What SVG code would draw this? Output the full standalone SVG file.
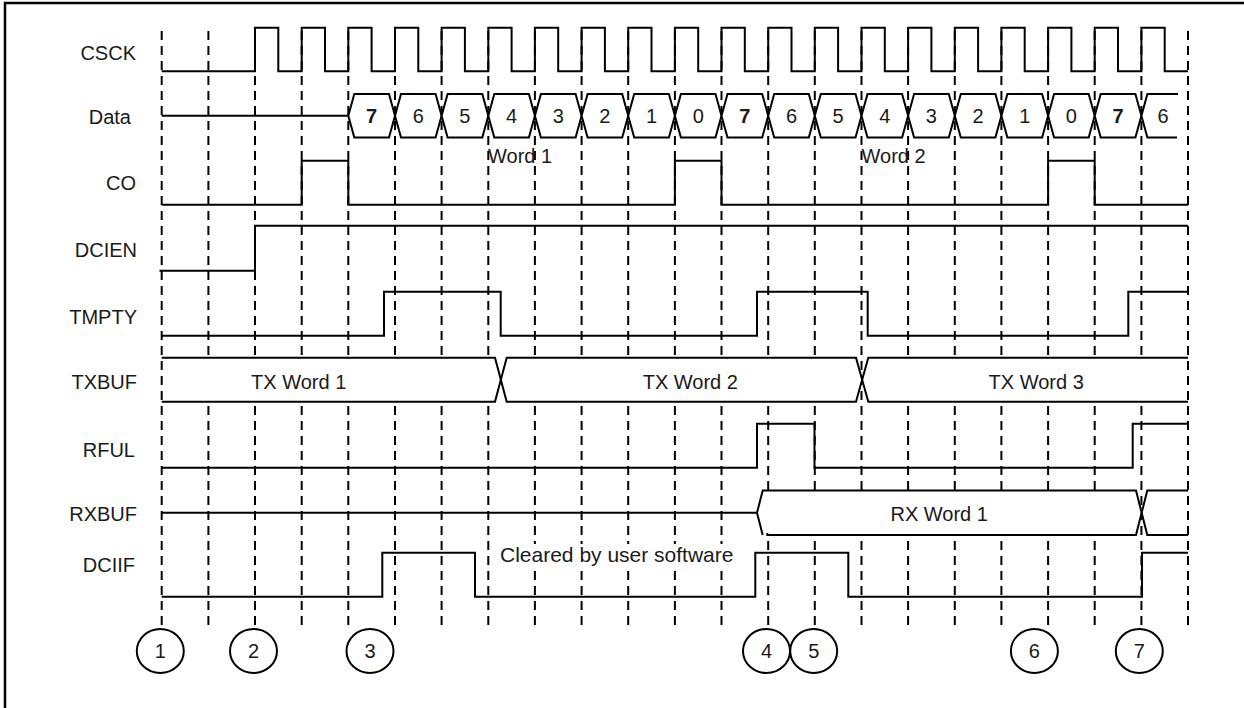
<svg xmlns="http://www.w3.org/2000/svg" width="1244" height="708" viewBox="0 0 1244 708">
<style>
  .sig { fill: none; stroke: #000; stroke-width: 2; stroke-linejoin: miter; }
  .bus { fill: none; stroke: #000; stroke-width: 2; }
  .hex { fill: #fff; stroke: #000; stroke-width: 2; }
  .blank { fill: #fff; stroke: none; }
  .grid line { stroke: #000; stroke-width: 2; stroke-dasharray: 9 6; }
  text { font-family: "Liberation Sans", Arial, Helvetica, sans-serif; font-size: 20px; fill: #1a1a1a; }
  .lbl { text-anchor: end; }
  .c { text-anchor: middle; }
  .b { font-weight: bold; }
  .mark { fill: #fff; stroke: #000; stroke-width: 2; }
</style>
<rect x="0" y="0" width="1244" height="708" fill="#fff"/>
<path d="M5 710 V3 H1246" fill="none" stroke="#000" stroke-width="2.5"/>

<g id="connectors" class="grid">
  <line x1="161.7" y1="31" x2="161.7" y2="625"/>
  <line x1="208.4" y1="31" x2="208.4" y2="625"/>
  <line x1="255" y1="31" x2="255" y2="625"/>
  <line x1="301.7" y1="31" x2="301.7" y2="625"/>
  <line x1="348.3" y1="31" x2="348.3" y2="625"/>
  <line x1="395" y1="31" x2="395" y2="625"/>
  <line x1="441.6" y1="31" x2="441.6" y2="625"/>
  <line x1="488.3" y1="31" x2="488.3" y2="625"/>
  <line x1="534.9" y1="31" x2="534.9" y2="625"/>
  <line x1="581.6" y1="31" x2="581.6" y2="625"/>
  <line x1="628.2" y1="31" x2="628.2" y2="625"/>
  <line x1="674.9" y1="31" x2="674.9" y2="625"/>
  <line x1="721.5" y1="31" x2="721.5" y2="625"/>
  <line x1="768.2" y1="31" x2="768.2" y2="625"/>
  <line x1="814.8" y1="31" x2="814.8" y2="625"/>
  <line x1="861.5" y1="31" x2="861.5" y2="625"/>
  <line x1="908.1" y1="31" x2="908.1" y2="625"/>
  <line x1="954.8" y1="31" x2="954.8" y2="625"/>
  <line x1="1001.4" y1="31" x2="1001.4" y2="625"/>
  <line x1="1048.1" y1="31" x2="1048.1" y2="625"/>
  <line x1="1094.7" y1="31" x2="1094.7" y2="625"/>
  <line x1="1141.4" y1="31" x2="1141.4" y2="625"/>
  <line x1="1188" y1="31" x2="1188" y2="625"/>
</g>

<g id="csck">
  <text class="lbl" x="136" y="60">CSCK</text>
  <path class="sig" d="M161.7 71.3 H255 V27.7 H278.3 V71.3 H301.7 V27.7 H325 V71.3 H348.3 V27.7 H371.6 V71.3 H395 V27.7 H418.3 V71.3 H441.6 V27.7 H464.9 V71.3 H488.3 V27.7 H511.6 V71.3 H534.9 V27.7 H558.2 V71.3 H581.6 V27.7 H604.9 V71.3 H628.2 V27.7 H651.5 V71.3 H674.9 V27.7 H698.2 V71.3 H721.5 V27.7 H744.8 V71.3 H768.2 V27.7 H791.5 V71.3 H814.8 V27.7 H838.1 V71.3 H861.5 V27.7 H884.8 V71.3 H908.1 V27.7 H931.4 V71.3 H954.8 V27.7 H978.1 V71.3 H1001.4 V27.7 H1024.7 V71.3 H1048.1 V27.7 H1071.4 V71.3 H1094.7 V27.7 H1118 V71.3 H1141.4 V27.7 H1164.7 V71.3 H1188"/>
</g>

<g id="data">
  <text class="lbl" x="131" y="124">Data</text>
  <path class="sig" d="M161.7 115.8 H348.3"/>
  <polygon class="hex" points="348.3,115.8 354.3,94 389,94 395,115.8 389,137.5 354.3,137.5"/>
  <polygon class="hex" points="395,115.8 401,94 435.6,94 441.6,115.8 435.6,137.5 401,137.5"/>
  <polygon class="hex" points="441.6,115.8 447.6,94 482.3,94 488.3,115.8 482.3,137.5 447.6,137.5"/>
  <polygon class="hex" points="488.3,115.8 494.3,94 528.9,94 534.9,115.8 528.9,137.5 494.3,137.5"/>
  <polygon class="hex" points="534.9,115.8 540.9,94 575.6,94 581.6,115.8 575.6,137.5 540.9,137.5"/>
  <polygon class="hex" points="581.6,115.8 587.6,94 622.2,94 628.2,115.8 622.2,137.5 587.6,137.5"/>
  <polygon class="hex" points="628.2,115.8 634.2,94 668.9,94 674.9,115.8 668.9,137.5 634.2,137.5"/>
  <polygon class="hex" points="674.9,115.8 680.9,94 715.5,94 721.5,115.8 715.5,137.5 680.9,137.5"/>
  <polygon class="hex" points="721.5,115.8 727.5,94 762.2,94 768.2,115.8 762.2,137.5 727.5,137.5"/>
  <polygon class="hex" points="768.2,115.8 774.2,94 808.8,94 814.8,115.8 808.8,137.5 774.2,137.5"/>
  <polygon class="hex" points="814.8,115.8 820.8,94 855.5,94 861.5,115.8 855.5,137.5 820.8,137.5"/>
  <polygon class="hex" points="861.5,115.8 867.5,94 902.1,94 908.1,115.8 902.1,137.5 867.5,137.5"/>
  <polygon class="hex" points="908.1,115.8 914.1,94 948.8,94 954.8,115.8 948.8,137.5 914.1,137.5"/>
  <polygon class="hex" points="954.8,115.8 960.8,94 995.4,94 1001.4,115.8 995.4,137.5 960.8,137.5"/>
  <polygon class="hex" points="1001.4,115.8 1007.4,94 1042.1,94 1048.1,115.8 1042.1,137.5 1007.4,137.5"/>
  <polygon class="hex" points="1048.1,115.8 1054.1,94 1088.7,94 1094.7,115.8 1088.7,137.5 1054.1,137.5"/>
  <polygon class="hex" points="1094.7,115.8 1100.7,94 1135.4,94 1141.4,115.8 1135.4,137.5 1100.7,137.5"/>
  <polygon class="blank" points="1141.4,115.8 1147.4,94 1178,94 1178,137.5 1147.4,137.5"/>
  <path class="bus" d="M1178 94 H1147.4 L1141.4 115.8 L1147.4 137.5 H1177"/>
  <text class="c b" x="371.6" y="123">7</text>
  <text class="c" x="418.3" y="123">6</text>
  <text class="c" x="464.9" y="123">5</text>
  <text class="c" x="511.6" y="123">4</text>
  <text class="c" x="558.2" y="123">3</text>
  <text class="c" x="604.9" y="123">2</text>
  <text class="c" x="651.5" y="123">1</text>
  <text class="c" x="698.2" y="123">0</text>
  <text class="c b" x="744.8" y="123">7</text>
  <text class="c" x="791.5" y="123">6</text>
  <text class="c" x="838.1" y="123">5</text>
  <text class="c" x="884.8" y="123">4</text>
  <text class="c" x="931.4" y="123">3</text>
  <text class="c" x="978.1" y="123">2</text>
  <text class="c" x="1024.7" y="123">1</text>
  <text class="c" x="1071.4" y="123">0</text>
  <text class="c b" x="1118" y="123">7</text>
  <text class="c" x="1163" y="123">6</text>
  <text x="488" y="163">Word 1</text>
  <text x="861.5" y="163">Word 2</text>
</g>

<g id="co">
  <text class="lbl" x="136" y="190">CO</text>
  <path class="sig" d="M161.7 204.7 H301.7 V160.7 H348.3 V204.7 H674.9 V160.7 H721.5 V204.7 H1048.1 V160.7 H1094.7 V204.7 H1188"/>
</g>

<g id="dcien">
  <text class="lbl" x="137" y="257">DCIEN</text>
  <path class="sig" d="M159.5 270.7 H255 V225.7 H1188"/>
</g>

<g id="tmpty">
  <text class="lbl" x="137" y="324">TMPTY</text>
  <path class="sig" d="M161.7 335.7 H384 V291.7 H500.7 V335.7 H757 V291.7 H867.7 V335.7 H1128.3 V291.7 H1188"/>
</g>

<g id="txbuf">
  <text class="lbl" x="137" y="389">TXBUF</text>
  <polygon class="blank" points="163,357.7 495,357.7 500.85,379.7 495,401.7 163,401.7"/>
  <polygon class="blank" points="500.85,379.7 506.7,357.7 856,357.7 862.15,379.7 856,401.7 506.7,401.7"/>
  <polygon class="blank" points="862.15,379.7 868.3,357.7 1186.8,357.7 1186.8,401.7 868.3,401.7"/>
  <path class="bus" d="M161.7 357.7 H495 L506.7 401.7 H856 L868.3 357.7 H1188"/>
  <path class="bus" d="M161.7 401.7 H495 L506.7 357.7 H856 L868.3 401.7 H1188"/>
  <text class="c" x="298.7" y="389">TX Word 1</text>
  <text class="c" x="690.3" y="389">TX Word 2</text>
  <text class="c" x="1036.2" y="389">TX Word 3</text>
</g>

<g id="rful">
  <text class="lbl" x="135" y="457">RFUL</text>
  <path class="sig" d="M161.7 467.7 H757 V423.7 H814.5 V467.7 H1132.7 V423.7 H1188"/>
</g>

<g id="rxbuf">
  <text class="lbl" x="137" y="521">RXBUF</text>
  <polygon class="blank" points="757,512.7 762.7,490.5 1136,490.5 1141.65,512.7 1136,535 762.7,535"/>
  <polygon class="blank" points="1141.65,512.7 1147.3,490.5 1186.8,490.5 1186.8,535 1147.3,535"/>
  <path class="bus" d="M161.7 512.7 H757 L762.7 490.5 H1136 L1147.3 535 H1188"/>
  <path class="bus" d="M757 512.7 L762.7 535 M767.3 533 V535 H1136 L1147.3 490.5 H1188"/>
  <text class="c" x="939.2" y="521">RX Word 1</text>
</g>

<g id="dciif">
  <text class="lbl" x="135" y="572">DCIIF</text>
  <path class="sig" d="M161.7 596.7 H382.3 V552.7 H475 V596.7 H755.3 V552.7 H848.3 V596.7 H1142 V552.7 H1188"/>
  <rect class="blank" x="498" y="544" width="240" height="24"/>
  <text x="500" y="562" style="font-size:21px">Cleared by user software</text>
</g>

<g id="marker-1"><ellipse class="mark" cx="160.3" cy="651" rx="23.5" ry="22"/><text class="c" x="160.3" y="657.5">1</text></g>
<g id="marker-2"><ellipse class="mark" cx="253.5" cy="651" rx="23.5" ry="22"/><text class="c" x="253.5" y="657.5">2</text></g>
<g id="marker-3"><ellipse class="mark" cx="370" cy="651" rx="23.5" ry="22"/><text class="c" x="370" y="657.5">3</text></g>
<g id="marker-4"><ellipse class="mark" cx="766.5" cy="651" rx="23.5" ry="22"/><text class="c" x="766.5" y="657.5">4</text></g>
<g id="marker-5"><ellipse class="mark" cx="813.7" cy="651" rx="23.5" ry="22"/><text class="c" x="813.7" y="657.5">5</text></g>
<g id="marker-6"><ellipse class="mark" cx="1034.4" cy="651" rx="23.5" ry="22"/><text class="c" x="1034.4" y="657.5">6</text></g>
<g id="marker-7"><ellipse class="mark" cx="1139.3" cy="651" rx="23.5" ry="22"/><text class="c" x="1139.3" y="657.5">7</text></g>
</svg>
